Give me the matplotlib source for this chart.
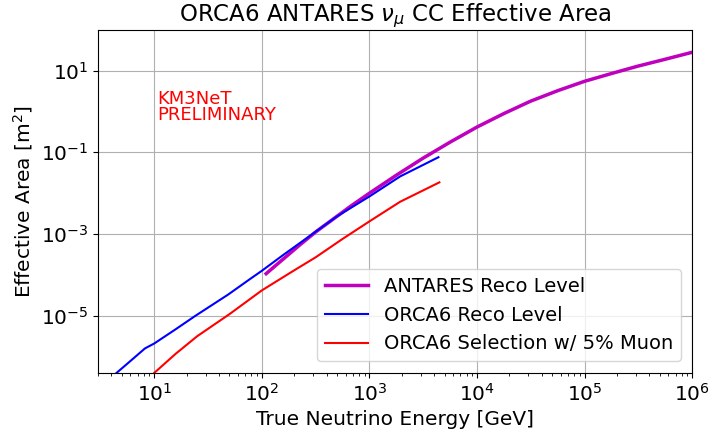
import numpy as np
import matplotlib
matplotlib.use("Agg")
import matplotlib.pyplot as plt

# log10(E/GeV), log10(A/m^2)
antares_logE = [2.04, 2.2, 2.356, 2.5, 2.665, 2.83, 3.0, 3.25, 3.5, 3.75, 4.0, 4.25, 4.495, 4.75, 5.0, 5.25, 5.487, 5.75, 6.0]
antares_logA = [-3.97, -3.61, -3.26, -2.95, -2.63, -2.31, -2.0, -1.56, -1.14, -0.75, -0.38, -0.05, 0.25, 0.51, 0.74, 0.93, 1.105, 1.28, 1.45]

orca_logE = [0.65, 0.8, 0.914, 1.0, 1.2, 1.378, 1.688, 1.891, 2.0, 2.2, 2.449, 2.697, 3.0, 3.285, 3.641]
orca_logA = [-6.40, -6.06, -5.80, -5.68, -5.33, -5.01, -4.48, -4.10, -3.90, -3.51, -3.04, -2.57, -2.08, -1.59, -1.12]

sel_logE = [1.0, 1.2, 1.4, 1.7, 2.0, 2.3, 2.5, 2.75, 3.0, 3.285, 3.65]
sel_logA = [-6.40, -5.93, -5.50, -4.96, -4.38, -3.89, -3.57, -3.12, -2.69, -2.21, -1.735]

fig = plt.figure(figsize=(7.1, 4.32), dpi=100)
ax = fig.add_axes([0.138, 0.137, 0.837, 0.794])

ax.plot(10**np.array(antares_logE), 10**np.array(antares_logA), color='m', lw=2.5, label='ANTARES Reco Level')
ax.plot(10**np.array(orca_logE), 10**np.array(orca_logA), color='blue', lw=1.5, label='ORCA6 Reco Level')
ax.plot(10**np.array(sel_logE), 10**np.array(sel_logA), color='red', lw=1.5, label='ORCA6 Selection w/ 5% Muon')

ax.set_xscale('log')
ax.set_yscale('log')
ax.set_xlim(3.0, 1e6)
ax.set_ylim(4e-7, 100)
ax.set_yticks([1e-5, 1e-3, 1e-1, 1e1])
ax.grid(True, which='major', color='#b0b0b0', lw=0.8)
ax.tick_params(labelsize=14.5)
ax.set_xlabel('True Neutrino Energy [GeV]', fontsize=14.5)
ax.set_ylabel('Effective Area [m$^2$]', fontsize=14.5)
ax.set_title(r'ORCA6 ANTARES $\nu_\mu$ CC Effective Area', fontsize=16.5)
ax.text(0.099, 0.775, 'KM3NeT\nPRELIMINARY', color='red', fontsize=13,
        transform=ax.transAxes, va='center', ha='left', linespacing=0.85)
ax.legend(loc='lower right', fontsize=14, handlelength=2.2, borderaxespad=0.6)

fig.savefig('out.png', dpi=100)
